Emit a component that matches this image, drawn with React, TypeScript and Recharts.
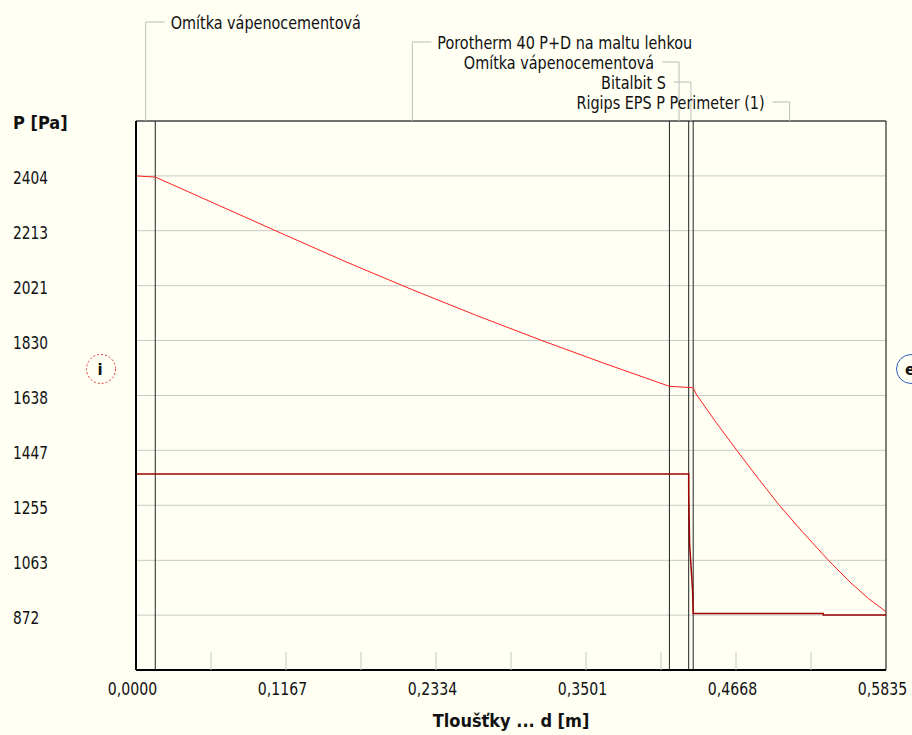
import React from 'react';
import { ComposedChart, Line, XAxis, YAxis, CartesianGrid, ReferenceLine } from 'recharts';

// layer build-up of the wall (thickness from interior side, m)
const layerNames = [
  'Omítka vápenocementová',
  'Porotherm 40 P+D na maltu lehkou',
  'Omítka vápenocementová',
  'Bitalbit S',
  'Rigips EPS P Perimeter (1)',
];
const layerBounds = [0, 0.015, 0.415, 0.43, 0.4335, 0.5835];
const labelRows = [0, 1, 2, 3, 4];
const labelSides = ['right', 'right', 'left', 'left', 'left'];

// saturated vapour pressure (red)
const satD = [0, 0.015, 0.065, 0.115, 0.165, 0.215, 0.265, 0.315, 0.365, 0.415, 0.43, 0.4335,
  0.4362, 0.4518, 0.4674, 0.484, 0.5005, 0.5192, 0.5379, 0.5555, 0.5698, 0.5835];
const satP = [2404, 2400, 2300, 2200, 2101, 2007, 1917, 1831, 1749, 1670, 1666, 1665,
  1640, 1541, 1447, 1349, 1255, 1159, 1067, 987, 930, 884];

// partial vapour pressure (dark red)
const parD = [0, 0.43, 0.43, 0.4307, 0.433, 0.4335, 0.5347, 0.5347, 0.5835];
const parP = [1364, 1364, 1300, 1120, 960, 878, 878, 872, 872];

const xTicks = [0, 0.05835, 0.1167, 0.17505, 0.2334, 0.29175, 0.3501, 0.40845, 0.4668, 0.52515, 0.5835];
const xTickLabels = ['0,0000', '', '0,1167', '', '0,2334', '', '0,3501', '', '0,4668', '', '0,5835'];
const yTicks = [872, 1063, 1255, 1447, 1638, 1830, 2021, 2213, 2404];
const yMin = 680.5;
const yMax = 2595.5;

const FONT = "'DejaVu Sans Condensed', 'DejaVu Sans', sans-serif";
const BG = '#FFFFF4';

const satData = satD.map((d, i) => ({ d, p: satP[i] }));
const parData = parD.map((d, i) => ({ d, p: parP[i] }));

// narrow text (the original uses a condensed bitmap font)
const SText = (props: any) => {
  const { x, y, anchor = 'start', bold = false, sx = 0.87, children } = props;
  return (
    <text
      transform={`translate(${x},${y}) scale(${sx},1)`}
      textAnchor={anchor}
      fontFamily={FONT}
      fontSize={18}
      fontWeight={bold ? 'bold' : 'normal'}
      fill="#111"
    >
      {children}
    </text>
  );
};

const XTick = (props: any) => {
  const { x, y, index } = props;
  const inner = index > 0 && index < xTicks.length - 1;
  return (
    <g>
      {inner && <line x1={x} x2={x} y1={y - 18} y2={y} stroke="#C8C8C8" strokeWidth={1} />}
      <SText x={x - 3.5} y={y + 24.5} anchor="middle">
        {xTickLabels[index]}
      </SText>
    </g>
  );
};

const YTick = (props: any) => {
  const { y, payload } = props;
  return (
    <SText x={13} y={y + 8.5} sx={0.85}>
      {String(payload.value)}
    </SText>
  );
};

const YTitle = (props: any) => {
  const vb = props.viewBox || { y: 121 };
  return (
    <SText x={13} y={vb.y + 8} bold sx={1}>
      P [Pa]
    </SText>
  );
};

const XTitle = (props: any) => {
  const vb = props.viewBox || { x: 136, y: 670, width: 750 };
  return (
    <SText x={vb.x + vb.width / 2} y={vb.y + 57} anchor="middle" bold sx={1}>
      Tloušťky ... d [m]
    </SText>
  );
};

const LayerLabel = (props: any) => {
  const { viewBox, name, row, side } = props;
  if (!viewBox) return null;
  const x = viewBox.x;
  const top = viewBox.y;
  const ry = 22 + row * 20;
  const right = side === 'right';
  return (
    <g>
      <polyline
        points={`${x},${top} ${x},${ry} ${right ? x + 19 : x - 17},${ry}`}
        fill="none"
        stroke="#BDBDBD"
        strokeWidth={1}
      />
      <SText x={right ? x + 25 : x - 25} y={ry + 6.5} anchor={right ? 'start' : 'end'} sx={0.89}>
        {name}
      </SText>
    </g>
  );
};

const SideMark = (props: any) => {
  const { viewBox, letter, dx, color, dashed } = props;
  if (!viewBox) return null;
  const cx = viewBox.x + dx;
  const cy = viewBox.y + 248;
  return (
    <g>
      <circle cx={cx} cy={cy} r={14.5} fill="none" stroke={color} strokeWidth={1} strokeDasharray={dashed ? '2 2' : undefined} />
      <text x={cx - 1} y={cy + 5.5} textAnchor="middle" fontFamily="'DejaVu Sans', sans-serif" fontSize={15} fontWeight="bold" fill="#111">
        {letter}
      </text>
    </g>
  );
};

export default function App() {
  const mids = layerNames.map((_, i) => (layerBounds[i] + layerBounds[i + 1]) / 2);
  return (
    <div style={{ width: 912, height: 735, background: BG, overflow: 'hidden' }}>
      <style>{'body{margin:0;}'}</style>
      <ComposedChart width={912} height={735} margin={{ top: 121, right: 26, bottom: 0, left: 0 }}>
        <CartesianGrid horizontal vertical={false} stroke="#C8C8C8" strokeWidth={1} />
        <XAxis
          type="number"
          dataKey="d"
          domain={[0, 0.5835]}
          ticks={xTicks}
          interval={0}
          height={65}
          tickSize={0}
          tickMargin={0}
          tickLine={false}
          tick={<XTick />}
          axisLine={{ stroke: '#000', strokeWidth: 2 }}
          label={<XTitle />}
          allowDataOverflow
        />
        <YAxis
          type="number"
          domain={[yMin, yMax]}
          ticks={yTicks}
          interval={0}
          width={136}
          tickLine={false}
          tick={<YTick />}
          axisLine={{ stroke: '#000', strokeWidth: 2 }}
          label={<YTitle />}
          allowDataOverflow
        />
        <ReferenceLine y={yMax} stroke="#000" strokeWidth={1} />
        <ReferenceLine x={layerBounds[layerBounds.length - 1]} stroke="#000" strokeWidth={1} />
        {layerBounds.slice(1, -1).map((b) => (
          <ReferenceLine key={'b' + b} x={b} stroke="#222" strokeWidth={1} />
        ))}
        {mids.map((m, i) => (
          <ReferenceLine
            key={'m' + i}
            x={m}
            stroke="none"
            label={<LayerLabel name={layerNames[i]} row={labelRows[i]} side={labelSides[i]} />}
          />
        ))}
        <ReferenceLine x={0} stroke="none" label={<SideMark letter="i" dx={-35} color="#E03030" dashed />} />
        <ReferenceLine x={0.5835} stroke="none" label={<SideMark letter="e" dx={25} color="#3060C0" />} />
        <Line data={satData} dataKey="p" type="linear" stroke="#FF2020" strokeWidth={1} dot={false} isAnimationActive={false} />
        <Line data={parData} dataKey="p" type="linear" stroke="#A00000" strokeWidth={1.5} dot={false} isAnimationActive={false} />
      </ComposedChart>
    </div>
  );
}
